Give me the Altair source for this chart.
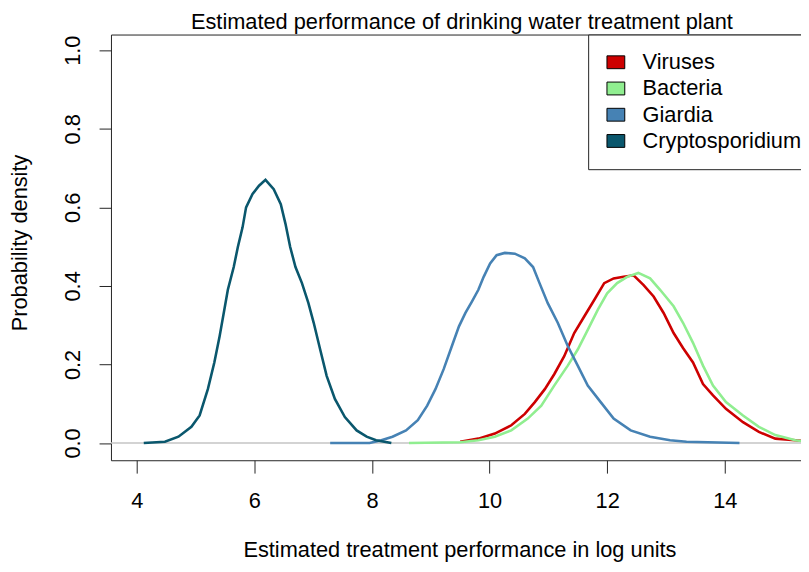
import altair as alt
import pandas as pd

# ---- data ----
series_names = ["Viruses", "Bacteria", "Giardia", "Cryptosporidium"]
series_colors = ["#CD0000", "#90EE90", "#4682B4", "#0A576D"]

viruses_x = [9.50, 9.81, 10.09, 10.37, 10.60, 10.77, 10.94, 11.10, 11.27, 11.44, 11.61, 11.78,
             11.95, 12.11, 12.28, 12.45, 12.62, 12.79, 12.96, 13.13, 13.29, 13.46, 13.63, 13.80,
             14.02, 14.31, 14.58, 14.86, 15.20, 15.40]
viruses_y = [0.003, 0.011, 0.024, 0.045, 0.074, 0.104, 0.137, 0.175, 0.221, 0.280, 0.322, 0.364,
             0.407, 0.419, 0.423, 0.427, 0.402, 0.373, 0.331, 0.280, 0.242, 0.205, 0.150, 0.121,
             0.087, 0.053, 0.028, 0.011, 0.007, 0.004]

bacteria_x = [8.63, 9.50, 9.81, 10.09, 10.37, 10.65, 10.88, 11.10, 11.33, 11.50, 11.67, 11.84,
              12.00, 12.17, 12.34, 12.53, 12.73, 12.90, 13.13, 13.29, 13.46, 13.63, 13.80, 14.02,
              14.31, 14.58, 14.86, 15.20, 15.40]
bacteria_y = [0.000, 0.002, 0.007, 0.016, 0.032, 0.062, 0.095, 0.146, 0.197, 0.238, 0.288, 0.339,
              0.381, 0.407, 0.423, 0.433, 0.419, 0.390, 0.348, 0.306, 0.255, 0.197, 0.146, 0.104,
              0.070, 0.041, 0.020, 0.007, 0.003]

giardia_x = [7.29, 7.96, 8.16, 8.35, 8.58, 8.78, 8.94, 9.08, 9.22, 9.36, 9.48, 9.59, 9.70, 9.81,
             9.90, 10.01, 10.12, 10.26, 10.43, 10.60, 10.74, 10.85, 10.99, 11.16, 11.33, 11.50,
             11.67, 11.89, 12.11, 12.40, 12.73, 13.07, 13.35, 14.25]
giardia_y = [0.000, 0.000, 0.007, 0.016, 0.032, 0.058, 0.095, 0.137, 0.188, 0.247, 0.297, 0.331,
             0.360, 0.390, 0.423, 0.457, 0.478, 0.484, 0.482, 0.470, 0.448, 0.407, 0.356, 0.306,
             0.247, 0.197, 0.146, 0.104, 0.062, 0.032, 0.016, 0.007, 0.003, 0.000]

crypto_x = [4.12, 4.48, 4.71, 4.93, 5.07, 5.21, 5.32, 5.41, 5.49, 5.55, 5.65, 5.72, 5.80, 5.86,
            5.97, 6.08, 6.19, 6.33, 6.45, 6.53, 6.61, 6.70, 6.81, 6.92, 7.01, 7.12, 7.23, 7.37,
            7.54, 7.74, 7.91, 8.07, 8.33]
crypto_y = [0.000, 0.003, 0.016, 0.041, 0.070, 0.137, 0.205, 0.272, 0.339, 0.390, 0.448, 0.499,
            0.549, 0.600, 0.634, 0.655, 0.670, 0.646, 0.608, 0.558, 0.499, 0.448, 0.407, 0.356,
            0.306, 0.238, 0.171, 0.112, 0.066, 0.032, 0.016, 0.007, 0.000]

x_ticks = [4, 6, 8, 10, 12, 14]
y_ticks = [0.0, 0.2, 0.4, 0.6, 0.8, 1.0]

# ---- build table ----
rows = []
for name, xs, ys in zip(series_names,
                        [viruses_x, bacteria_x, giardia_x, crypto_x],
                        [viruses_y, bacteria_y, giardia_y, crypto_y]):
    for xv, yv in zip(xs, ys):
        rows.append({"series": name, "x": xv, "y": yv})
df = pd.DataFrame(rows)
legend_df = pd.DataFrame({"series": series_names})

FONT = "Liberation Sans"
FS = 22

xscale = alt.Scale(domain=[3.5623, 15.33], nice=False, zero=False)
yscale = alt.Scale(domain=[-0.044, 1.04], nice=False, zero=False)

x_axis = alt.Axis(values=x_ticks, title="Estimated treatment performance in log units",
                  tickSize=13, labelPadding=35, labelBaseline="alphabetic",
                  labelFlush=False, titleX=352, titleY=97,
                  titleBaseline="alphabetic", titleAlign="center")
y_axis = alt.Axis(values=y_ticks, format=".1f", title="Probability density",
                  tickSize=12, labelPadding=20, labelAngle=270,
                  labelAlign="center", labelBaseline="alphabetic",
                  labelFlush=False, titleAngle=270, titleX=-85, titleY=210,
                  titleBaseline="alphabetic", titleAlign="center")

zero_line = alt.Chart(pd.DataFrame({"y": [0.0]})).mark_rule(
    color="#c4c4c4", strokeWidth=1.6
).encode(y=alt.Y("y:Q", scale=yscale, axis=y_axis))

# stroke scale: same mapping, domain listed in another order so its legend stays separate
stroke_domain = list(reversed(series_names))
stroke_range = list(reversed(series_colors))

lines = alt.Chart(df).mark_line(strokeWidth=2.6, clip=True).encode(
    x=alt.X("x:Q", scale=xscale, axis=x_axis),
    y=alt.Y("y:Q", scale=yscale, axis=y_axis),
    stroke=alt.Stroke("series:N", scale=alt.Scale(domain=stroke_domain, range=stroke_range),
                      legend=None),
)

legend_layer = alt.Chart(legend_df).mark_point(filled=True, opacity=0).encode(
    fill=alt.Fill("series:N", scale=alt.Scale(domain=series_names, range=series_colors),
                  legend=alt.Legend(title=None, orient="none", legendX=482, legendY=0,
                                    strokeColor="#222222", fillColor="white", padding=17,
                                    rowPadding=4.5, labelOffset=16, labelFont=FONT,
                                    labelFontSize=FS, labelColor="black", labelLimit=0,
                                    symbolType="M-1,-0.72H1V0.72H-1Z", symbolSize=324,
                                    symbolStrokeColor="black", symbolStrokeWidth=1,
                                    symbolOpacity=1)),
)

chart = alt.layer(zero_line, lines, legend_layer).properties(
    width=699, height=430,
    padding={"left": 104, "top": 24, "right": -2, "bottom": 102},
    autosize=alt.AutoSizeParams(type="none"),
    title=alt.TitleParams("Estimated performance of drinking water treatment plant",
                          font=FONT, fontSize=FS, fontWeight="normal", color="black",
                          anchor="middle", baseline="alphabetic", offset=4, dx=5, dy=21),
).configure_view(stroke="#222222", strokeWidth=1).configure_axis(
    grid=False, domain=False, tickColor="#222222", tickWidth=1,
    labelFont=FONT, labelFontSize=FS, labelColor="black",
    titleFont=FONT, titleFontSize=FS, titleFontWeight="normal", titleColor="black",
)

chart.save("out.html", embed_options={"renderer": "svg", "actions": False})
